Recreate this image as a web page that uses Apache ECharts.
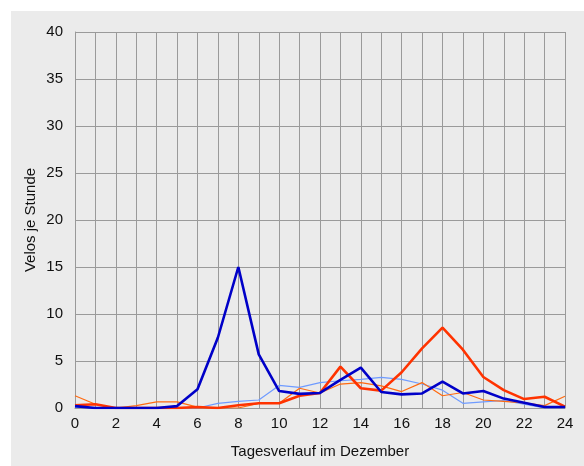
<!DOCTYPE html>
<html><head><meta charset="utf-8">
<script src="https://cdn.jsdelivr.net/npm/echarts@6/dist/echarts.min.js"></script>
<style>html,body{margin:0;padding:0;background:#fff}#c{width:584px;height:466px}</style>
</head><body><div id="c"></div>
<script>
const hours = [0,1,2,3,4,5,6,7,8,9,10,11,12,13,14,15,16,17,18,19,20,21,22,23,24];
const darkBlue = [0.2,0,0,0,0,0.2,2.0,7.5,15,5.7,1.8,1.5,1.6,3.0,4.3,1.7,1.45,1.55,2.8,1.55,1.8,1.0,0.55,0.1,0.1];
const lightBlue = [0.1,0,0,0,0,0,0,0.5,0.7,0.85,2.4,2.2,2.7,2.9,3.05,3.25,3.05,2.55,1.9,0.5,0.65,0.8,0.4,0,0];
const redOrange = [0.3,0.4,0,0,0,0,0.1,0,0.3,0.5,0.5,1.3,1.6,4.4,2.1,1.85,3.8,6.35,8.55,6.2,3.3,1.9,0.95,1.2,0.15];
const orange = [1.3,0.4,0,0.25,0.65,0.65,0.1,0,0,0.5,0.5,2.1,1.6,2.55,2.7,2.35,1.75,2.7,1.3,1.65,0.85,0.7,0.55,0.25,1.25];
const yTicks = [0,5,10,15,20,25,30,35,40];

const pairs = arr => hours.map((h,i)=>[h,arr[i]]);
const font = 'Liberation Sans, Arial, sans-serif';
const chart = echarts.init(document.getElementById('c'));
function mk(name, data, color, width, z){
  return {name, type:'line', data:pairs(data), symbol:'none', z,
    lineStyle:{color, width}, itemStyle:{color}, animation:false};
}
chart.setOption({
  animation:false,
  backgroundColor:'#ffffff',
  graphic:[{type:'rect', z:-10, shape:{x:11,y:11,width:573,height:455}, style:{fill:'#ebebeb'}}],
  grid:{left:75,right:19,top:32,bottom:58},
  xAxis:{type:'value',min:0,max:24,interval:1,
    name:'Tagesverlauf im Dezember',nameLocation:'middle',nameGap:36,
    nameTextStyle:{color:'#111',fontSize:15,fontFamily:font},
    axisLine:{show:true,lineStyle:{color:'#999',width:1}},
    axisTick:{show:false},
    axisLabel:{color:'#111',fontSize:15,fontFamily:font,margin:8,
      formatter:v=>(v%2===0?String(v):'')},
    splitLine:{show:true,lineStyle:{color:'#9a9a9a',width:1}}},
  yAxis:{type:'value',min:yTicks[0],max:yTicks[yTicks.length-1],interval:5,
    name:'Velos je Stunde',nameLocation:'middle',nameGap:37,nameRotate:90,nameMoveOverlap:false,
    nameTextStyle:{color:'#111',fontSize:15,fontFamily:font},
    axisLine:{show:true,lineStyle:{color:'#999',width:1}},
    axisTick:{show:false},
    axisLabel:{color:'#111',fontSize:15,fontFamily:font,margin:12},
    splitLine:{show:true,lineStyle:{color:'#9a9a9a',width:1}}},
  series:[
    mk('Hellblau', lightBlue, '#6f9bff', 1.2, 2),
    mk('Orange', orange, '#ff6a10', 1.2, 3),
    mk('Rot', redOrange, '#ff3300', 2.6, 4),
    mk('Dunkelblau', darkBlue, '#0000c8', 2.6, 5)
  ]
});
</script></body></html>
